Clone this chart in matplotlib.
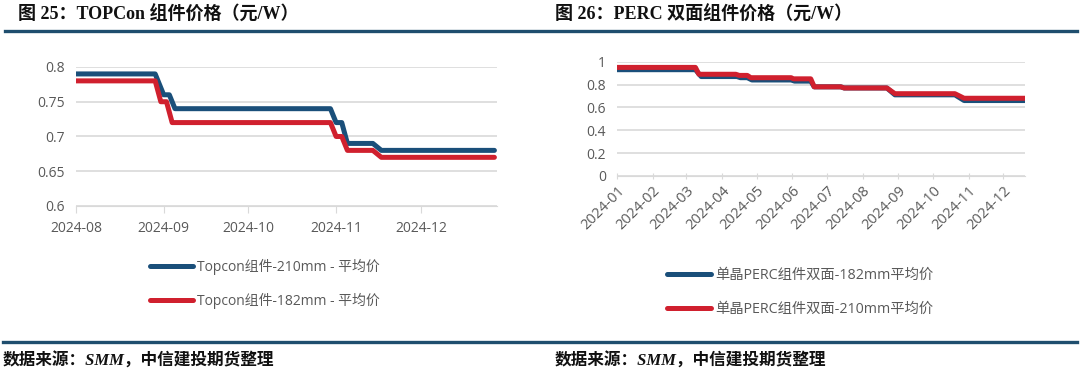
import pandas as pd
import matplotlib.pyplot as plt
import matplotlib.dates as mdates
from matplotlib.lines import Line2D

# TOPCon module prices (yuan/W), Aug-Dec 2024
topcon_210_dates = ['2024-08-01', '2024-08-29', '2024-09-01', '2024-09-03', '2024-09-05', '2024-10-30',
                    '2024-11-01', '2024-11-03', '2024-11-05', '2024-11-14', '2024-11-17', '2024-12-27']
topcon_210 = [0.79, 0.79, 0.76, 0.76, 0.74, 0.74, 0.72, 0.72, 0.69, 0.69, 0.68, 0.68]
topcon_182_dates = ['2024-08-01', '2024-08-29', '2024-08-31', '2024-09-02', '2024-09-04', '2024-10-30',
                    '2024-11-01', '2024-11-03', '2024-11-05', '2024-11-14', '2024-11-17', '2024-12-27']
topcon_182 = [0.78, 0.78, 0.75, 0.75, 0.72, 0.72, 0.70, 0.70, 0.68, 0.68, 0.67, 0.67]

# PERC bifacial module prices (yuan/W), 2024
perc_182_dates = ['2024-01-01', '2024-03-09', '2024-03-14', '2024-04-14', '2024-04-17', '2024-04-23',
                  '2024-04-27', '2024-05-31', '2024-06-03', '2024-06-17', '2024-06-20', '2024-07-13',
                  '2024-07-16', '2024-08-22', '2024-08-29', '2024-10-20', '2024-10-28', '2024-12-20']
perc_182 = [0.93, 0.93, 0.87, 0.87, 0.86, 0.86, 0.84, 0.84, 0.83, 0.83, 0.78, 0.78,
            0.77, 0.77, 0.71, 0.71, 0.66, 0.66]
perc_210_dates = ['2024-01-01', '2024-03-09', '2024-03-12', '2024-04-13', '2024-04-16', '2024-04-23',
                  '2024-04-26', '2024-05-31', '2024-06-02', '2024-06-17', '2024-06-20', '2024-07-13',
                  '2024-07-16', '2024-08-22', '2024-08-29', '2024-10-20', '2024-10-28', '2024-12-20']
perc_210 = [0.95, 0.95, 0.89, 0.89, 0.88, 0.88, 0.86, 0.86, 0.85, 0.85, 0.78, 0.78,
            0.77, 0.77, 0.72, 0.72, 0.68, 0.68]

blue = '#1a4f7a'
red = '#d0202e'
grey = '#595959'
fonts = ['Open Sans', 'Noto Sans CJK SC', 'DejaVu Sans']
plt.rcParams['font.family'] = fonts

fig = plt.figure(figsize=(10.8, 3.75), dpi=100)

def style_axes(ax):
    for s in ['top', 'right', 'left']:
        ax.spines[s].set_visible(False)
    ax.spines['bottom'].set_color('#d9d9d9')
    ax.grid(axis='y', color='#d9d9d9', linewidth=1.2)
    ax.set_axisbelow(True)
    ax.tick_params(axis='y', length=0, labelsize=10, labelcolor=grey, pad=8)
    ax.tick_params(axis='x', color='#d9d9d9', labelsize=10, labelcolor=grey)
    ax.xaxis.set_major_locator(mdates.MonthLocator())
    ax.xaxis.set_major_formatter(mdates.DateFormatter('%Y-%m'))

# left chart
ax1 = fig.add_axes([0.0704, 0.4507, 0.39, 0.3707])
ax1.plot(pd.to_datetime(topcon_210_dates), topcon_210, color=blue, lw=3.6, solid_capstyle='round')
ax1.plot(pd.to_datetime(topcon_182_dates), topcon_182, color=red, lw=3.6, solid_capstyle='round')
style_axes(ax1)
ax1.set_ylim(0.6, 0.8)
ax1.set_yticks([0.6, 0.65, 0.7, 0.75, 0.8])
ax1.set_yticklabels(['0.6', '0.65', '0.7', '0.75', '0.8'])
ax1.set_xlim(pd.Timestamp('2024-08-01'), pd.Timestamp('2024-12-28'))
ax1.tick_params(axis='x', length=5, direction='out', pad=6)

# right chart
ax2 = fig.add_axes([0.5713, 0.5307, 0.378, 0.3048])
ax2.plot(pd.to_datetime(perc_182_dates), perc_182, color=blue, lw=3.6, solid_capstyle='round')
ax2.plot(pd.to_datetime(perc_210_dates), perc_210, color=red, lw=3.6, solid_capstyle='round')
style_axes(ax2)
ax2.set_ylim(0, 1)
ax2.set_yticks([0, 0.2, 0.4, 0.6, 0.8, 1])
ax2.set_yticklabels(['0', '0.2', '0.4', '0.6', '0.8', '1'])
ax2.set_xlim(pd.Timestamp('2024-01-01'), pd.Timestamp('2024-12-20'))
ax2.tick_params(axis='x', length=4, direction='inout', labelsize=10.5)
plt.setp(ax2.get_xticklabels(), rotation=45, ha='right', rotation_mode='anchor')

# legends
h1 = [Line2D([], [], color=blue, lw=3.6, solid_capstyle='round'),
      Line2D([], [], color=red, lw=3.6, solid_capstyle='round')]
fig.legend(h1, ['Topcon组件-210mm - 平均价', 'Topcon组件-182mm - 平均价'], loc='center',
           bbox_to_anchor=(0.245, 0.243), frameon=False, fontsize=10, labelcolor=grey,
           handlelength=3.1, handletextpad=0.3, labelspacing=1.3)
fig.legend(h1, ['单晶PERC组件双面-182mm平均价', '单晶PERC组件双面-210mm平均价'], loc='center',
           bbox_to_anchor=(0.741, 0.22), frameon=False, fontsize=10.3, labelcolor=grey,
           handlelength=3.1, handletextpad=0.3, labelspacing=1.3)

# titles, rules and source notes
title_fonts = ['Liberation Serif', 'Noto Sans CJK SC']
fig.text(0.017, 0.962, '图 25：TOPCon 组件价格（元/W）', fontsize=13, fontweight='bold',
         family=title_fonts, va='center', color='#111111')
fig.text(0.514, 0.962, '图 26：PERC 双面组件价格（元/W）', fontsize=13, fontweight='bold',
         family=title_fonts, va='center', color='#111111')
fig.add_artist(Line2D([0.005, 0.997], [1 - 31 / 375, 1 - 31 / 375], color='#1f4e6e', lw=2.4))
fig.add_artist(Line2D([0.003, 0.997], [1 - 342 / 375, 1 - 342 / 375], color='#1f4e6e', lw=2.4))
fig.text(0.002, 1 - 361 / 375, '数据来源：SMM，中信建投期货整理', fontsize=12, fontweight='bold',
         style='italic', family=title_fonts, va='center', color='#111111')
fig.text(0.514, 1 - 361 / 375, '数据来源：SMM，中信建投期货整理', fontsize=12, fontweight='bold',
         style='italic', family=title_fonts, va='center', color='#111111')

fig.savefig('out.png', dpi=100)
